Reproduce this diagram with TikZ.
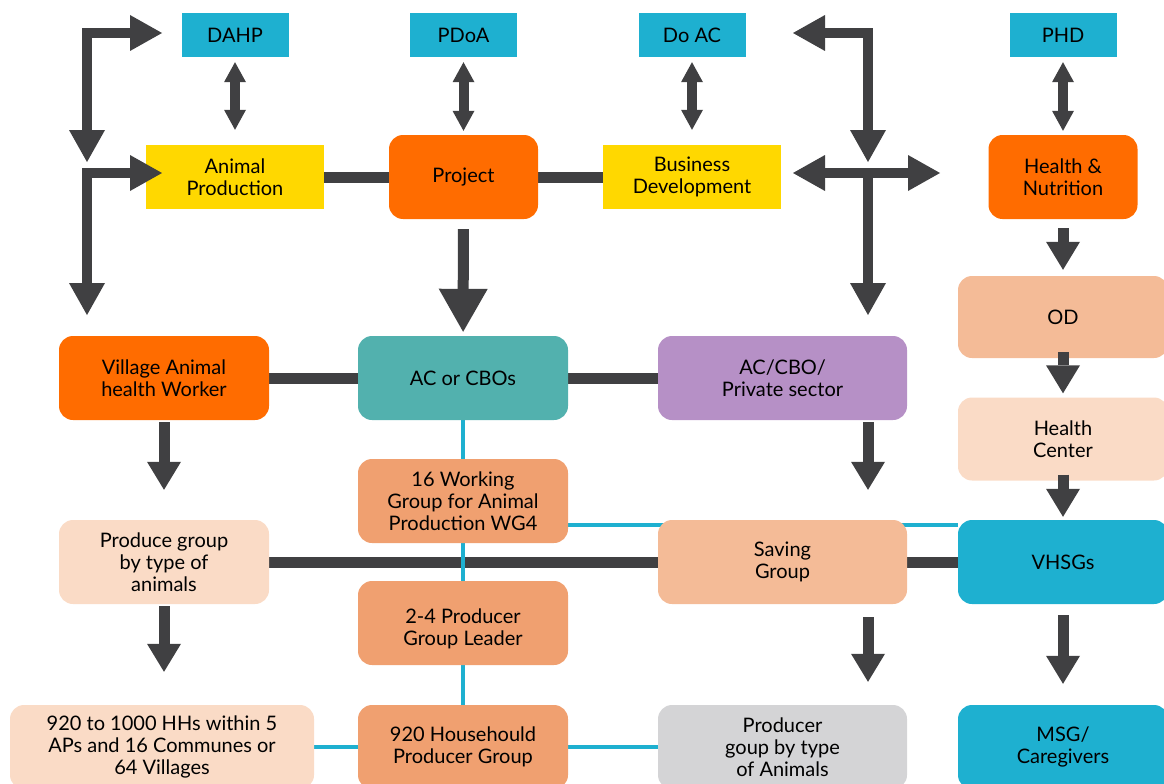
\documentclass[tikz,border=0pt]{standalone}
\usepackage{fontspec}
\setmainfont{Lato}
\usetikzlibrary{arrows.meta, backgrounds}
\definecolor{boxCyan}{RGB}{30, 176, 208}
\definecolor{boxYellow}{RGB}{255, 216, 0}
\definecolor{boxOrange}{RGB}{255, 108, 0}
\definecolor{boxTeal}{RGB}{82, 177, 174}
\definecolor{boxPurple}{RGB}{182, 144, 198}
\definecolor{boxSalmon}{RGB}{240, 160, 112}
\definecolor{boxPeach}{RGB}{244, 187, 151}
\definecolor{boxCream}{RGB}{250, 219, 198}
\definecolor{boxGray}{RGB}{212, 212, 214}
\definecolor{arrowGray}{RGB}{64, 64, 66}

\tikzset{
    box/.style={align=center, inner sep=2pt, text=black, font=\fontsize{20}{22}\selectfont},
    office/.style={box, fill=boxCyan, minimum width=107pt, minimum height=44pt},
    unit/.style={box, fill=boxYellow, minimum width=178pt, minimum height=64pt},
    group/.style={box, rounded corners=14pt, minimum width=210pt, minimum height=84pt},
    widegroup/.style={group, minimum width=249pt},
    bar/.style={draw=arrowGray, line width=11pt},
    link/.style={draw=boxCyan, line width=4pt},
    flow/.style={draw=arrowGray, line width=11pt, -{Triangle[width=34pt, length=28pt, line width=0pt]}},
    bigflow/.style={draw=arrowGray, line width=11pt, -{Triangle[width=49pt, length=43pt, line width=0pt]}},
    twoway/.style={draw=arrowGray, line width=10pt, {Triangle[width=22pt, length=20pt, line width=0pt]}-{Triangle[width=22pt, length=20pt, line width=0pt]}},
    bracket/.style={draw=arrowGray, line width=10pt, {Triangle[width=36pt, length=32pt, line width=0pt]}-{Triangle[width=36pt, length=32pt, line width=0pt]}},
    bracketdown/.style={draw=arrowGray, line width=10pt, -{Triangle[width=36pt, length=32pt, line width=0pt]}}
}

\begin{document}
\begin{tikzpicture}[x=1pt, y=-1pt]
    \useasboundingbox (0,0) rectangle (1164,784);

    % offices
    \node[office] (dahp) at (235,35) {DAHP};
    \node[office] (pdoa) at (463.5,35) {PDoA};
    \node[office] (doac) at (692,35) {Do AC};
    \node[office] (phd) at (1063,35) {PHD};

    % programme level
    \node[unit] (animal) at (235,177) {Animal\\Production};
    \node[group, fill=boxOrange, minimum width=149pt] (project) at (463.5,177) {Project};
    \node[unit] (business) at (692,177) {Business\\Development};
    \node[group, fill=boxOrange, minimum width=149pt] (health) at (1063,177) {Health \&\\Nutrition};

    % health column
    \node[group, fill=boxPeach, minimum height=82pt] (od) at (1063,317) {OD};
    \node[group, fill=boxCream, minimum height=83pt] (center) at (1063,439) {Health\\Center};
    \node[group, fill=boxCyan] (vhsg) at (1063,562) {VHSGs};
    \node[group, fill=boxCyan] (msg) at (1063,747) {MSG/\\Caregivers};

    % community level
    \node[group, fill=boxOrange] (village) at (164,378) {Village Animal\\health Worker};
    \node[group, fill=boxTeal] (acbo) at (463,378) {AC or CBOs};
    \node[widegroup, fill=boxPurple] (private) at (782.5,378) {AC/CBO/\\Private sector};
    \node[group, fill=boxSalmon] (working) at (463,501) {16 Working\\Group for Animal\\Production WG4};
    \node[group, fill=boxCream] (produce) at (164,562) {Produce group\\by type of\\animals};
    \node[widegroup, fill=boxPeach] (saving) at (782.5,562) {Saving\\Group};
    \node[group, fill=boxSalmon, text height=44pt, text depth=0pt] (leader) at (463,623) {2-4 Producer\\Group Leader};
    \node[group, fill=boxCream, minimum width=304pt] (households) at (162,747) {920 to 1000 HHs within 5\\APs and 16 Communes or\\64 Villages};
    \node[group, fill=boxSalmon] (household) at (463,747) {920 Househould\\Producer Group};
    \node[widegroup, fill=boxGray] (bytype) at (782.5,747) {Producer\\goup by type\\of Animals};

    % lines behind the boxes
    \begin{scope}[on background layer]
        \draw[bar] (animal) -- (project);
        \draw[bar] (project) -- (business);
        \draw[bar] (village) -- (acbo);
        \draw[bar] (acbo) -- (private);
        \draw[bar] (produce) -- (saving);
        \draw[bar] (saving) -- (vhsg);
        \draw[link] (acbo) -- (household);
        \draw[link] ([yshift=-24pt]working.east) -- ([yshift=-24pt]working.east -| vhsg.west);
        \draw[link] (households) -- (household);
        \draw[link] (household) -- (bytype);
    \end{scope}

    % two-way links to the offices
    \draw[twoway, shorten <=5pt, shorten >=15pt] (dahp) -- (animal);
    \draw[twoway, shorten <=5pt, shorten >=4pt] (pdoa) -- (project);
    \draw[twoway, shorten <=5pt, shorten >=15pt] (doac) -- (business);
    \draw[twoway, shorten <=5pt, shorten >=4pt] (phd) -- (health);

    % brackets
    \coordinate (toDahp) at (162,33);
    \coordinate (leftDown) at (87,162);
    \coordinate (toAnimal) at (162,173);
    \coordinate (toVillage) at (87,315);
    \coordinate (toDoac) at (793,33);
    \coordinate (rightDown) at (868,162);
    \coordinate (crossLeft) at (793,173);
    \coordinate (crossRight) at (940,173);
    \coordinate (crossMid) at (868,173);
    \coordinate (toPrivate) at (868,315);
    \draw[bracket] (toDahp) -| (leftDown);
    \draw[bracket] (toAnimal) -| (toVillage);
    \draw[bracket] (toDoac) -| (rightDown);
    \draw[bracket] (crossLeft) -- (crossRight);
    \draw[bracketdown] (crossMid) -- (toPrivate);

    % downward flows
    \draw[bigflow, shorten <=10pt, shorten >=4pt] (project) -- (acbo);
    \draw[flow, shorten <=2pt, shorten >=30pt] (village) -- (produce);
    \draw[flow, shorten <=2pt, shorten >=30pt] ([xshift=85.5pt]private.south) -- ([xshift=85.5pt]saving.north);
    \draw[flow, shorten <=2pt, shorten >=33pt] (produce.south) -- (produce.south |- households.north);
    \draw[flow, shorten <=13pt, shorten >=23pt] ([xshift=85.5pt]saving.south) -- ([xshift=85.5pt]bytype.north);
    \draw[flow, shorten <=9pt, shorten >=6pt] (health) -- (od);
    \draw[flow, shorten <=-6pt, shorten >=4pt] (od) -- (center);
    \draw[flow, shorten <=-6pt, shorten >=3pt] (center) -- (vhsg);
    \draw[flow, shorten <=11pt, shorten >=21pt] (vhsg) -- (msg);
\end{tikzpicture}
\end{document}
